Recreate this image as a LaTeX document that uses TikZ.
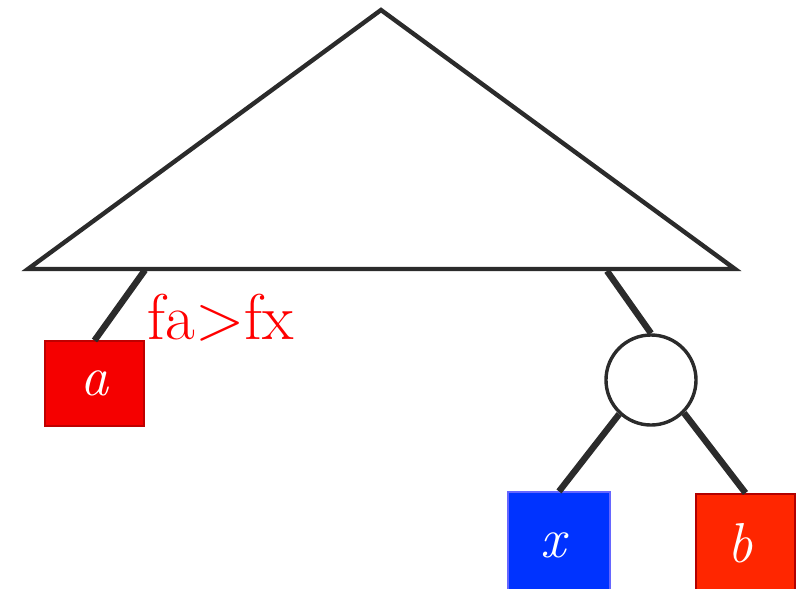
\documentclass[tikz,border=0pt]{standalone}
\usepackage{tikz}
\definecolor{boxred}{HTML}{F50000}
\definecolor{boxorange}{HTML}{FF2600}
\definecolor{boxblue}{HTML}{0033FF}
\definecolor{edge}{HTML}{2B2B2B}
\tikzset{
  leafbox/.style={minimum width=2.45cm, minimum height=2.1cm, inner sep=0pt, text=white, font=\fontsize{40}{40}\selectfont\itshape},
  leaflabel/.style={text=white, font=\fontsize{40}{40}\selectfont\itshape},
  branch/.style={edge, line width=0.16cm},
}
\begin{document}
\begin{tikzpicture}[x=0.025cm,y=-0.025cm]
\clip (0,0) rectangle (810,588);
% Tree
\draw[edge, line width=0.11cm, line join=miter] (381,10) -- (735,269) -- (28,269) -- cycle;
\coordinate (tl) at (145,270);
\coordinate (tr) at (607,271);

% Leaf a
\node[leafbox, fill=boxred, draw=red!75!black, line width=0.05cm] (a) at (94.5,383.5) {a};
\draw[branch] (tl) -- (a.north);
\node[red, anchor=west, font=\fontsize{46}{46}\selectfont] (cmp) at (143,318) {fa>fx};

% Inner node
\node[circle, draw=edge, line width=0.085cm, minimum size=2.25cm] (c) at (651,380) {};
\draw[branch] (tr) -- (c.north);

% Leaves x and b
\node[leafbox, fill=boxblue, draw=blue!60!white, line width=0.03cm, minimum width=2.55cm, minimum height=2.6cm] (x) at (559,544) {};
\node[leaflabel] (xl) at (553,545) {x};
\node[leafbox, fill=boxorange, draw=red!70!black, line width=0.05cm, minimum width=2.48cm, minimum height=2.6cm] (b) at (745.5,546) {};
\node[leaflabel] (bl) at (740,543) {b};
\draw[branch] (c.227) -- (x.north);
\draw[branch] (c.-45) -- (b.north);
\end{tikzpicture}
\end{document}
